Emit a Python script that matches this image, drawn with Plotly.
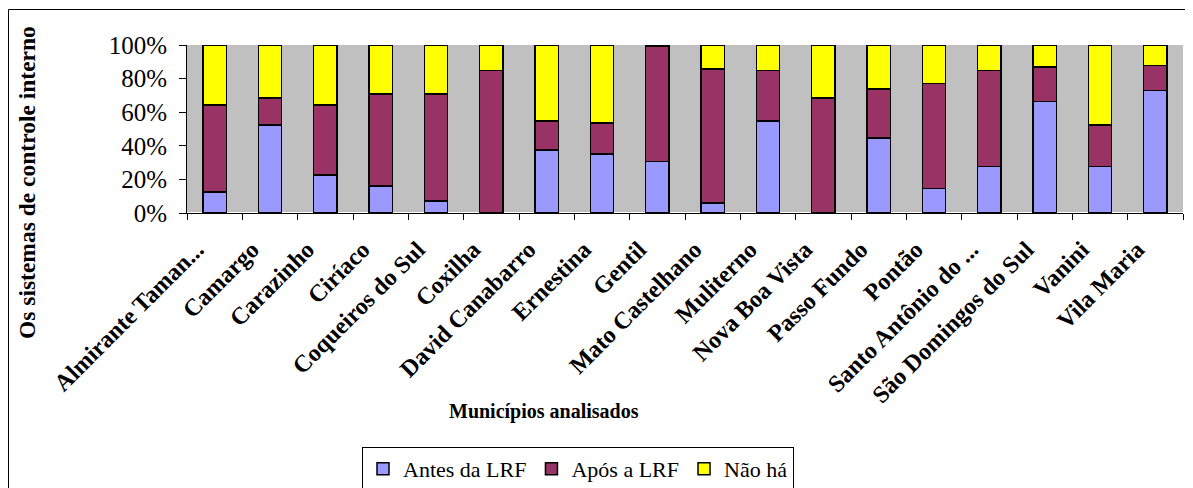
import plotly.graph_objects as go

municipios = ["Almirante Taman...", "Camargo", "Carazinho", "Ciríaco", "Coqueiros do Sul",
              "Coxilha", "David Canabarro", "Ernestina", "Gentil", "Mato Castelhano",
              "Muliterno", "Nova Boa Vista", "Passo Fundo", "Pontão", "Santo Antônio do ...",
              "São Domingos do Sul", "Vanini", "Vila Maria"]
antes = [12.5, 52.3, 22.5, 16.0, 7.2, 0.0, 37.4, 35.0, 30.8, 6.0, 54.9, 0.0, 44.7, 14.7, 27.6, 66.4, 27.6, 72.8]
apos = [51.7, 16.1, 41.7, 54.8, 63.6, 84.7, 17.5, 18.5, 68.2, 79.7, 29.8, 68.4, 29.1, 62.4, 57.1, 20.5, 24.7, 15.1]
nao = [35.8, 31.6, 35.8, 29.2, 29.2, 15.3, 45.1, 46.5, 1.0, 14.3, 15.3, 31.6, 26.2, 22.9, 15.3, 13.1, 47.7, 12.1]
y_ticks = [0, 20, 40, 60, 80, 100]
y_tick_labels = ["0%", "20%", "40%", "60%", "80%", "100%"]

series = [("Antes da LRF", antes, "#9999FF"), ("Após a LRF", apos, "#993366"), ("Não há", nao, "#FFFF00")]

# page body has an 8px margin: screen coords = figure coords + 8
OFF = 8
W, H = 1193 - OFF, 488 - OFF
L, R, T, B = 187 - OFF, 1183 - OFF, 45 - OFF, 213 - OFF

def px(x):  # screen x -> paper
    return (x - OFF - L) / (R - L)

def py(y):  # screen y -> paper
    return (B - (y - OFF)) / (B - T)

fig = go.Figure()
for name, vals, col in series:
    fig.add_trace(go.Bar(x=municipios, y=vals, name=name,
                         marker=dict(color=col, line=dict(color="black", width=1.5)),
                         width=0.42))

serif = "Liberation Serif, Times New Roman, serif"
fig.update_layout(
    barmode="stack",
    width=W, height=H,
    margin=dict(l=L, r=W - R, t=T, b=H - B, autoexpand=False),
    paper_bgcolor="white", plot_bgcolor="#C0C0C0",
    font=dict(family=serif, color="black"),
    showlegend=True,
    legend=dict(orientation="h", x=px(578), xanchor="center", y=py(447), yanchor="top",
                bordercolor="black", borderwidth=1, bgcolor="white",
                font=dict(family=serif, size=22, color="black"),
                traceorder="normal", itemwidth=30),
    xaxis=dict(tickangle=-45, tickfont=dict(family=serif, size=24, color="black"),
               tickvals=municipios, ticktext=["<b>%s</b>" % m for m in municipios],
               ticks="outside", ticklen=6, tickson="boundaries", tickcolor="black",
               ticklabelshift=-18, ticklabelstandoff=12, automargin=False,
               showline=True, linecolor="black", linewidth=1, showgrid=False),
    yaxis=dict(range=[0, 100], tickvals=y_ticks, ticktext=y_tick_labels,
               tickfont=dict(family=serif, size=25, color="black"),
               ticks="outside", ticklen=7, tickcolor="black", ticklabelstandoff=7,
               automargin=False,
               showline=True, linecolor="black", linewidth=1, showgrid=False),
    annotations=[
        dict(text="<b>Municípios analisados</b>", x=px(544), y=py(411), xref="paper", yref="paper",
             showarrow=False, font=dict(family=serif, size=20, color="black"),
             xanchor="center", yanchor="middle"),
        dict(text="<b>Os sistemas de controle interno</b>", x=px(27), y=py(183), xref="paper", yref="paper",
             showarrow=False, textangle=-90, font=dict(family=serif, size=23.5, color="black"),
             xanchor="center", yanchor="middle"),
    ],
    shapes=[
        dict(type="rect", xref="paper", yref="paper", x0=px(8.5), x1=px(1189), y0=py(500), y1=py(9.5),
             line=dict(color="black", width=1), fillcolor="rgba(0,0,0,0)", layer="below"),
    ],
)

fig.write_html("out.html")
